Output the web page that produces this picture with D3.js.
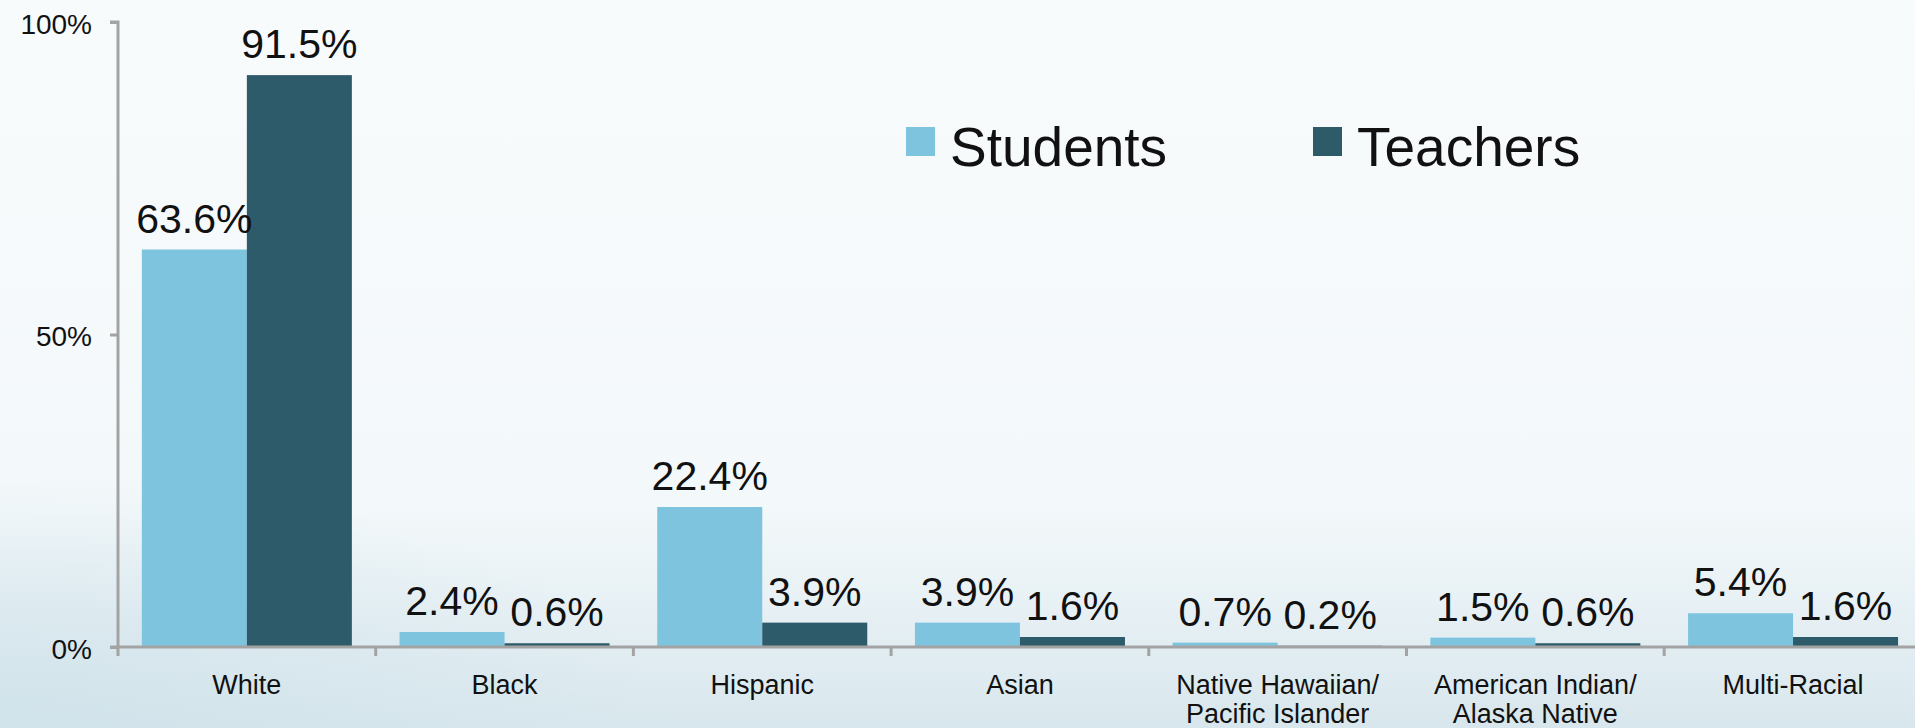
<!DOCTYPE html>
<html>
<head>
<meta charset="utf-8">
<script src="https://cdn.jsdelivr.net/npm/d3@7"></script>
<style>
  html, body { margin: 0; padding: 0; overflow: hidden; }
  body { width: 1915px; height: 728px; }
  text { font-family: "Liberation Sans", Arial, sans-serif; fill: #111; }
</style>
</head>
<body>
<div id="chart"></div>
<script>

// data
var categories      =   [
    ["White"],
    ["Black"],
    ["Hispanic"],
    ["Asian"],
    ["Native Hawaiian/", "Pacific Islander"],
    ["American Indian/", "Alaska Native"],
    ["Multi-Racial"]
];
var series_names    =   [ "Students", "Teachers" ];
var students        =   [ 63.6, 2.4, 22.4, 3.9, 0.7, 1.5, 5.4 ];
var teachers        =   [ 91.5, 0.6, 3.9, 1.6, 0.2, 0.6, 1.6 ];
var y_ticks         =   [ 0, 50, 100 ];
var colors          =   [ "#7fc4df", "#2e5b6a" ];

// --------------------------------------------------------

// Chart size parameters
var chart_width     =   1915;
var chart_height    =   728;
var left            =   118;
var top_y           =   22;
var bottom_y        =   647;
var step            =   257.7;

var svg = d3.select("#chart")
    .append("svg")
    .attr("width", chart_width)
    .attr("height", chart_height);

// background gradient
var defs = svg.append("defs");
var grad = defs.append("linearGradient")
    .attr("id", "bg")
    .attr("x1", 0).attr("y1", 0)
    .attr("x2", 0).attr("y2", 1);
grad.append("stop").attr("offset", "0%").attr("stop-color", "#f8fbfc");
grad.append("stop").attr("offset", "70%").attr("stop-color", "#f3f8fa");
grad.append("stop").attr("offset", "100%").attr("stop-color", "#d8e7ed");

var rgrad = defs.append("radialGradient")
    .attr("id", "corner")
    .attr("cx", 0).attr("cy", 1).attr("r", 0.35);
rgrad.append("stop").attr("offset", "0%").attr("stop-color", "#cfe2ea").attr("stop-opacity", 0.8);
rgrad.append("stop").attr("offset", "100%").attr("stop-color", "#cfe2ea").attr("stop-opacity", 0);

svg.append("rect")
    .attr("width", chart_width)
    .attr("height", chart_height)
    .attr("fill", "url(#bg)");
svg.append("rect")
    .attr("width", chart_width)
    .attr("height", chart_height)
    .attr("fill", "url(#corner)");

// --------------------------------------------------------

// Scales
var x0 = d3.scaleBand()
    .domain(d3.range(categories.length))
    .range([left, left + step * categories.length])
    .padding(0);

var x1 = d3.scaleBand()
    .domain(series_names)
    .range([0, x0.bandwidth()])
    .paddingInner(0)
    .paddingOuter(0.227);

var y_scale = d3.scaleLinear()
    .domain([0, 100])
    .range([bottom_y, top_y]);

var color = d3.scaleOrdinal()
    .domain(series_names)
    .range(colors);

// --------------------------------------------------------

// Bars
var rows = categories.map(function (c, i) {
    return [
        { key: "Students", value: students[i] },
        { key: "Teachers", value: teachers[i] }
    ];
});

var groups = svg.append("g")
    .selectAll("g")
    .data(rows)
    .enter()
    .append("g")
    .attr("transform", function (d, i) { return "translate(" + x0(i) + ",0)"; });

groups.selectAll("rect")
    .data(function (d) { return d; })
    .enter()
    .append("rect")
    .attr("x", function (d) { return x1(d.key); })
    .attr("y", function (d) { return y_scale(d.value); })
    .attr("width", x1.bandwidth())
    .attr("height", function (d) { return bottom_y - y_scale(d.value); })
    .attr("fill", function (d) { return color(d.key); });

// value labels
groups.selectAll("text")
    .data(function (d) { return d; })
    .enter()
    .append("text")
    .attr("x", function (d) { return x1(d.key) + x1.bandwidth() / 2; })
    .attr("y", function (d) { return y_scale(d.value) - 17; })
    .attr("text-anchor", "middle")
    .style("font-size", "41px")
    .text(function (d) { return d.value.toFixed(1) + "%"; });

// --------------------------------------------------------

// Axes
var y_axis = d3.axisLeft(y_scale)
    .tickValues(y_ticks)
    .tickSize(8)
    .tickPadding(18)
    .tickFormat(function (d) { return d + "%"; });

var gy = svg.append("g")
    .attr("transform", "translate(" + left + ",0)")
    .call(y_axis);
gy.select(".domain").attr("stroke", "#a3a3a3").attr("stroke-width", 3)
    .attr("d", "M-8," + top_y + "H0V" + bottom_y);
gy.selectAll(".tick line").attr("stroke", "#a3a3a3").attr("stroke-width", 3);
gy.selectAll(".tick text")
    .style("font-size", "28px")
    .attr("dy", "0.4em");

var x_axis = d3.axisBottom(x0)
    .tickSize(0)
    .tickFormat("");

var gx = svg.append("g")
    .attr("transform", "translate(0," + bottom_y + ")")
    .call(x_axis);
gx.select(".domain").attr("stroke", "#a3a3a3").attr("stroke-width", 3)
    .attr("d", "M" + (left - 8) + ",0H" + chart_width);

// category separator ticks
gx.append("g")
    .selectAll("line")
    .data(d3.range(categories.length))
    .enter()
    .append("line")
    .attr("x1", function (i) { return x0(i); })
    .attr("x2", function (i) { return x0(i); })
    .attr("y1", 0)
    .attr("y2", 9)
    .attr("stroke", "#a3a3a3")
    .attr("stroke-width", 3);

// category labels
var labels = svg.append("g")
    .selectAll("text")
    .data(categories)
    .enter()
    .append("text")
    .attr("text-anchor", "middle")
    .attr("x", function (d, i) { return x0(i) + x0.bandwidth() / 2; })
    .attr("y", 694)
    .style("font-size", "27px");

labels.selectAll("tspan")
    .data(function (d) { return d; })
    .enter()
    .append("tspan")
    .attr("x", function () { return d3.select(this.parentNode).attr("x"); })
    .attr("dy", function (d, i) { return i === 0 ? 0 : 29; })
    .text(function (d) { return d; });

// --------------------------------------------------------

// Legend
var legend_x = [ 906, 1313 ];
var legend = svg.append("g")
    .selectAll("g")
    .data(series_names)
    .enter()
    .append("g")
    .attr("transform", function (d, i) { return "translate(" + legend_x[i] + ",127)"; });

legend.append("rect")
    .attr("width", 29)
    .attr("height", 29)
    .attr("fill", function (d) { return color(d); });

legend.append("text")
    .attr("x", 44)
    .attr("y", 39)
    .style("font-size", "55px")
    .text(function (d) { return d; });

</script>
</body>
</html>
